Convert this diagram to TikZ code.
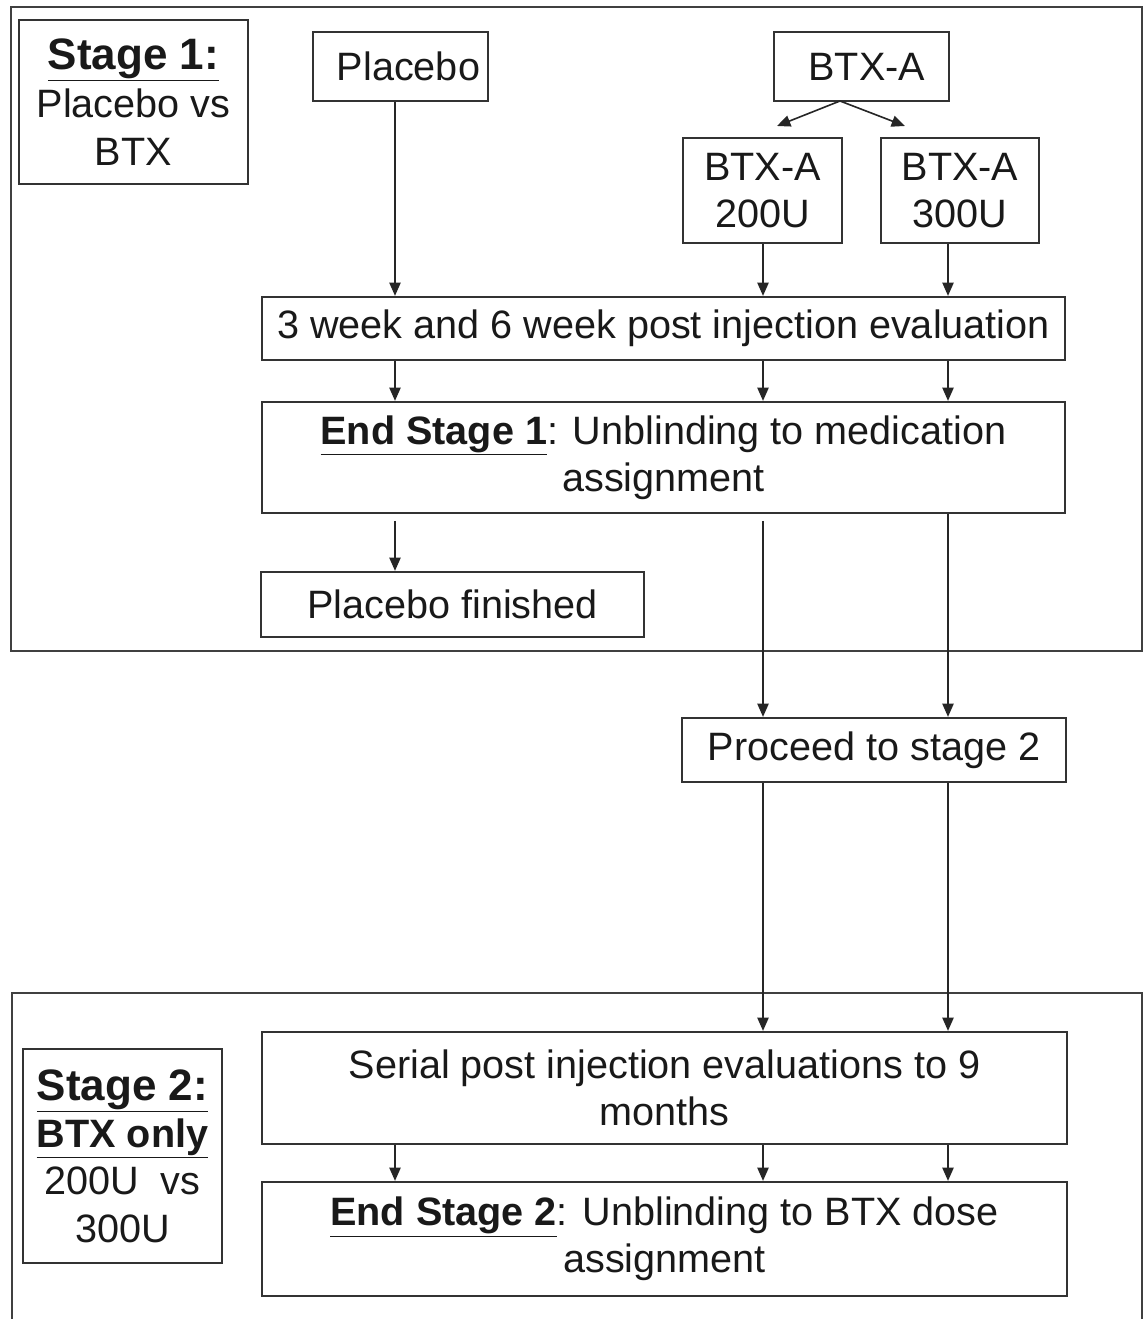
\documentclass[tikz,border=0pt]{standalone}
\usepackage{fontspec}
\setmainfont{Liberation Sans}
\usetikzlibrary{arrows.meta}

\tikzset{
  box/.style={draw=black!80, line width=1.7pt, inner sep=0pt, align=center, text=black!90,
    font=\fontsize{29.7}{35}\selectfont},
  sz/.style 2 args={minimum width=#1*0.75pt, minimum height=#2*0.75pt},
  frame/.style={draw=black!75, line width=1.7pt},
  arr/.style={draw=black!85, line width=1.2pt, -{Triangle[length=10pt,width=8.5pt]}},
}

\begin{document}
\begin{tikzpicture}[x=0.75pt,y=0.75pt,yscale=-1,xscale=1]
	\useasboundingbox (0,0) rectangle (1144,1319);
	
	%stage frames
	\draw [frame] (11,7) rectangle (1142,651);
	\draw [frame] (12,1330) -- (12,993) -- (1142,993) -- (1142,1330);
	
	%stage labels
	\node [box, sz={229}{164}, font=\fontsize{29.7}{36}\selectfont] (stageA) at (133.5,102) {{\fontsize{33}{36}\selectfont\bfseries\underline{Stage 1:}}\\Placebo vs\\BTX};
	\node [box, sz={199}{214}, font=\fontsize{29.7}{35.5}\selectfont] (stageB) at (122.5,1156) {{\fontsize{33}{35.5}\selectfont\bfseries\underline{Stage 2:}}\\{\bfseries\underline{BTX only}}\\200U\ \ vs\\300U};
	
	%stage 1 boxes
	\node [box, sz={175}{69}] (placebo) at (400.5,66.5) {\hspace*{12pt}Placebo};
	\node [box, sz={175}{69}] (btxa) at (861.5,66.5) {\hspace*{8pt}BTX-A};
	\node [box, sz={159}{105}] (dose200) at (762.5,190.5) {BTX-A\\200U};
	\node [box, sz={158}{105}] (dose300) at (960,190.5) {BTX-A\\300U};
	\node [box, sz={803}{63}] (eval) at (663.5,328.5) {3 week and 6 week post injection evaluation};
	\node [box, sz={803}{111}] (endA) at (663.5,457.5) {{\bfseries\underline{End Stage 1}}: Unblinding to medication\\assignment};
	\node [box, sz={383}{65}] (plfin) at (452.5,604.5) {Placebo finished};
	
	%between stages
	\node [box, sz={384}{64}] (proceed) at (874,750) {Proceed to stage 2};
	
	%stage 2 boxes
	\node [box, sz={805}{112}] (serial) at (664.5,1088) {Serial post injection evaluations to 9\\months};
	\node [box, sz={805}{114}] (endB) at (664.5,1239) {{\bfseries\underline{End Stage 2}}: Unblinding to BTX dose\\assignment};
	
	%columns and fork
	\coordinate (colA) at (395,0);
	\coordinate (colB) at (763,0);
	\coordinate (colC) at (948,0);
	\coordinate (fork) at (840,101);
	\coordinate (forkL) at (777,126);
	\coordinate (forkR) at (905,126);
	
	\draw [arr] (fork) -- (forkL);
	\draw [arr] (fork) -- (forkR);
	\draw [arr] (placebo.south -| colA) -- (eval.north -| colA);
	\draw [arr] (dose200.south -| colB) -- (eval.north -| colB);
	\draw [arr] (dose300.south -| colC) -- (eval.north -| colC);
	\foreach \c in {colA,colB,colC}
		\draw [arr] (eval.south -| \c) -- (endA.north -| \c);
	\draw [arr, shorten <=5pt] (endA.south -| colA) -- (plfin.north -| colA);
	\draw [arr, shorten <=5pt] (endA.south -| colB) -- (proceed.north -| colB);
	\draw [arr] (endA.south -| colC) -- (proceed.north -| colC);
	\foreach \c in {colB,colC}
		\draw [arr] (proceed.south -| \c) -- (serial.north -| \c);
	\foreach \c in {colA,colB,colC}
		\draw [arr] (serial.south -| \c) -- (endB.north -| \c);
	
\end{tikzpicture}
\end{document}
